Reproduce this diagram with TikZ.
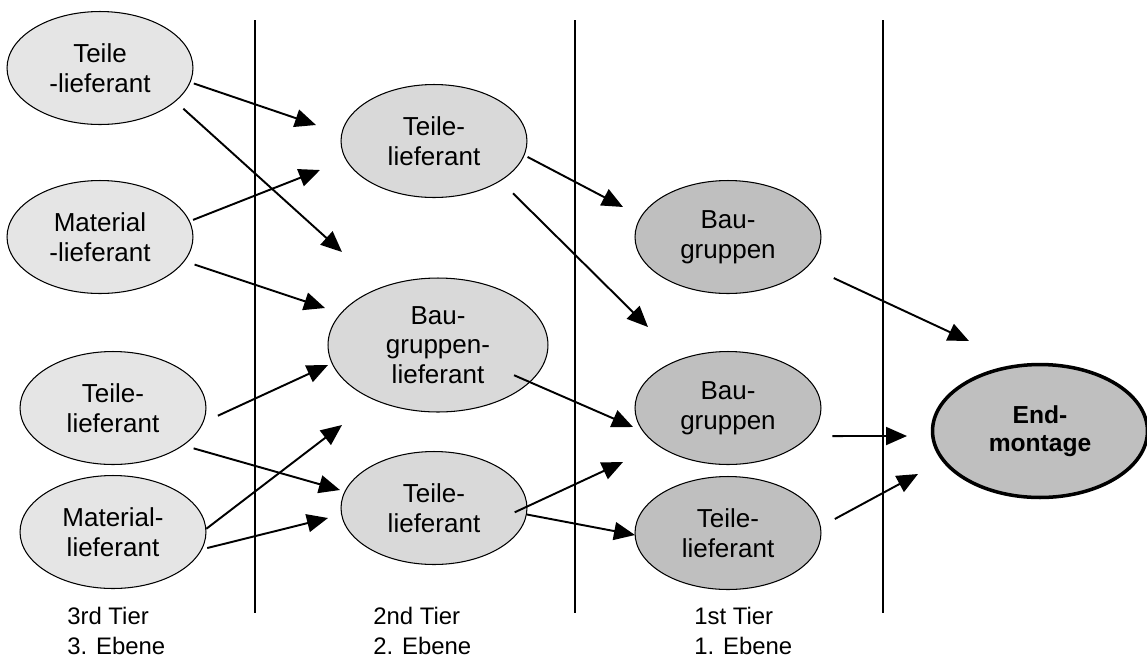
\documentclass[tikz,border=0pt]{standalone}
\usepackage{fontspec}
\setmainfont{Liberation Sans}
\usetikzlibrary{shapes.geometric,arrows.meta}
\definecolor{ebenedrei}{gray}{0.90}
\definecolor{ebenezwei}{gray}{0.85}
\definecolor{ebeneeins}{gray}{0.75}

\begin{document}
\begin{tikzpicture}[x=0.02cm, y=-0.02cm, >={Triangle[length=0.42cm,width=0.36cm]},
  lief/.style={ellipse, draw=black, line width=0.6pt, inner sep=0pt, minimum width=3.72cm, minimum height=2.26cm, align=center, font=\fontsize{14.8}{16.8}\selectfont},
  tier3/.style={lief, fill=ebenedrei},
  tier2/.style={lief, fill=ebenezwei},
  tier1/.style={lief, fill=ebeneeins},
  tierlabel/.style={anchor=north west, inner sep=0pt, align=left, font=\fontsize{13.6}{17}\selectfont},
  pfeil/.style={->, line width=1.1pt}]
\useasboundingbox (0,0) rectangle (1147,657);

% Trennlinien zwischen den Ebenen
\draw[line width=0.6pt] (255,20) -- (255,613);
\draw[line width=0.6pt] (575,20) -- (575,613);
\draw[line width=0.6pt] (883,20) -- (883,613);

% 3. Ebene
\node (tl3a) at (100,68) [tier3] {Teile\\-lieferant};
\node (ml3a) at (100,237) [tier3] {Material\\-lieferant};
\node (tl3b) at (113,408) [tier3] {Teile-\\lieferant};
\node (ml3b) at (113,532) [tier3] {Material-\\lieferant};
% 2. Ebene
\node (tl2a) at (434,141) [tier2] {Teile-\\lieferant};
\node (bgl2) at (438,345) [tier2, minimum width=4.4cm, minimum height=2.68cm] {Bau-\\gruppen-\\lieferant};
\node (tl2b) at (434,508) [tier2] {Teile-\\lieferant};
% 1. Ebene
\node (bg1a) at (728,237) [tier1] {Bau-\\gruppen};
\node (bg1b) at (728,408) [tier1] {Bau-\\gruppen};
\node (tl1) at (728,533) [tier1] {Teile-\\lieferant};
\node (em) at (1040,431) [tier1, line width=2pt, minimum width=4.3cm, minimum height=2.66cm, font=\bfseries\fontsize{14}{16}\selectfont] {End-\\montage};

\node (lab3) at (67,607) [tierlabel] {3rd Tier\\3. Ebene};
\node (lab2) at (373,607) [tierlabel] {2nd Tier\\2. Ebene};
\node (lab1) at (694,607) [tierlabel] {1st Tier\\1. Ebene};

% freie Pfeilspitzen
\coordinate (p1) at (316,125);
\coordinate (p2) at (342,252);
\coordinate (p3) at (320,170);
\coordinate (p4) at (325,308);
\coordinate (p5) at (328,365);
\coordinate (p6) at (340,490);
\coordinate (p7) at (342,425);
\coordinate (p8) at (328,518);
\coordinate (p9) at (623,207);
\coordinate (p10) at (648,327);
\coordinate (p11) at (633,427);
\coordinate (p12) at (623,462);
\coordinate (p13) at (635,535);
\coordinate (p14) at (969,341);
\coordinate (p15) at (907,436);
\coordinate (p16) at (918,474);

\draw[pfeil, shorten <=2pt] (tl3a.-9) -- (p1);
\draw[pfeil, shorten <=6pt] (tl3a.-24) -- (p2);
\draw[pfeil, shorten <=2pt] (ml3a.10) -- (p3);
\draw[pfeil, shorten <=6pt] (ml3a.-16) -- (p4);
\draw[pfeil, shorten <=9pt] (tl3b.-9) -- (p5);
\draw[pfeil, shorten <=6pt] (tl3b.-28) -- (p6);
\draw[pfeil] (ml3b.2) -- (p7);
\draw[pfeil, shorten <=3pt] (ml3b.-11) -- (p8);
\draw[pfeil, shorten <=2pt] (tl2a.-9) -- (p9);
\draw[pfeil, shorten <=10pt] (tl2a.-31) -- (p10);
\draw[pfeil, shorten <=-10pt] (bgl2.-22) -- (p11);
\draw[pfeil, shorten <=-8pt] (tl2b.1) -- (p12);
\draw[pfeil] (tl2b.-4) -- (p13);
\draw[pfeil, shorten <=16pt] (bg1a.-20) -- (p14);
\draw[pfeil, shorten <=13pt] (bg1b.-19) -- (p15);
\draw[pfeil, shorten <=9pt] (tl1.4) -- (p16);
\end{tikzpicture}
\end{document}
